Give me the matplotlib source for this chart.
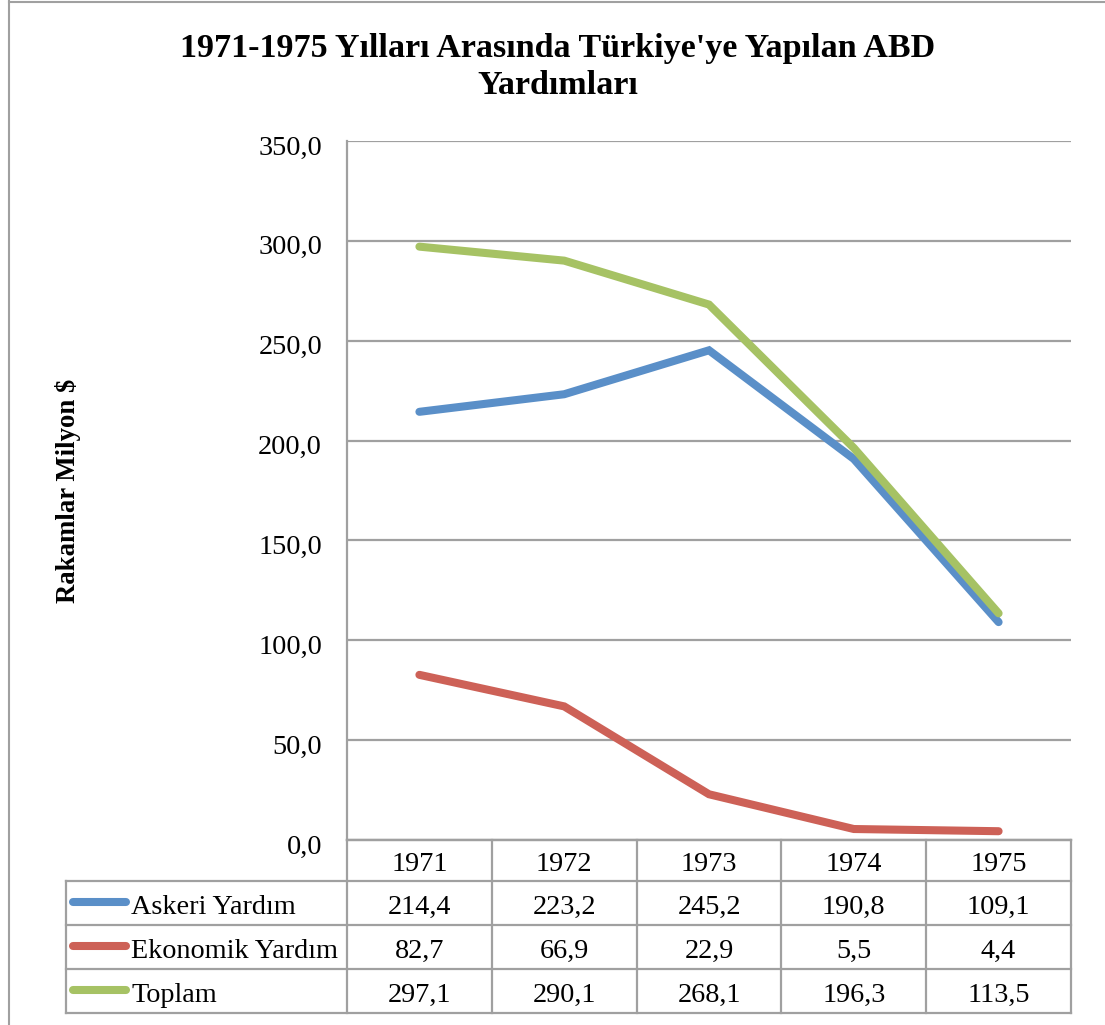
import matplotlib
matplotlib.use("Agg")
import matplotlib.pyplot as plt
import matplotlib.transforms as mtransforms
from matplotlib.lines import Line2D

years = ["1971", "1972", "1973", "1974", "1975"]
series_names = ["Askeri Yardım", "Ekonomik Yardım", "Toplam"]
askeri = [214.4, 223.2, 245.2, 190.8, 109.1]
ekonomik = [82.7, 66.9, 22.9, 5.5, 4.4]
toplam = [297.1, 290.1, 268.1, 196.3, 113.5]
yticks = [0, 50, 100, 150, 200, 250, 300, 350]
colors = ["#5A8FC8", "#CD6157", "#A6C264"]

title = "1971-1975 Yılları Arasında Türkiye'ye Yapılan ABD\nYardımları"
ylabel = "Rakamlar Milyon $"

plt.rcParams['font.family'] = ['Liberation Serif', 'DejaVu Serif']

W, H = 1105, 1025
fig = plt.figure(figsize=(W / 100, H / 100), dpi=100)

def fx(px):
    return px / W

def fy(py):
    return 1 - py / H

grid_col = "#A0A0A0"
fs = 20.3
lw_series = 5.8
# chart border
fig.add_artist(Line2D([fx(9), fx(9)], [fy(1), fy(1025)], color=grid_col, lw=1.5))
fig.add_artist(Line2D([fx(9), fx(1104)], [fy(1.5), fy(1.5)], color=grid_col, lw=1.5))

ax_l, ax_r, ax_t, ax_b = 347, 1071, 141, 840
ax = fig.add_axes([fx(ax_l), fy(ax_b), fx(ax_r) - fx(ax_l), fy(ax_t) - fy(ax_b)])
x = list(range(len(years)))
for vals, c in zip([askeri, ekonomik, toplam], colors):
    ax.plot(x, vals, color=c, lw=lw_series, solid_capstyle="round", solid_joinstyle="miter")
ax.set_xlim(-0.5, len(years) - 0.5)
ax.set_ylim(0, 350)
ax.set_yticks(yticks)
ax.set_yticklabels([f"{v:.1f}".replace(".", ",") for v in yticks], fontsize=fs)
ax.set_xticks([])
ax.yaxis.grid(True, color=grid_col, lw=1.6)
ax.set_axisbelow(True)
for s in ["top", "right"]:
    ax.spines[s].set_visible(False)
for s in ["left", "bottom"]:
    ax.spines[s].set_color(grid_col)
    ax.spines[s].set_linewidth(1.6)
ax.tick_params(axis="y", length=0, pad=18)
offset = mtransforms.ScaledTranslation(0, -4 / 100, fig.dpi_scale_trans)
for lbl in ax.get_yticklabels():
    lbl.set_transform(lbl.get_transform() + offset)

fig.text(fx(558), fy(67), title, ha="center", va="center", fontsize=24.5,
         fontweight="bold", linespacing=1.25)
fig.text(fx(68), fy(491), ylabel, ha="center", va="center", rotation=90,
         fontsize=19.3, fontweight="bold")

# data table
col_w = (ax_r - ax_l) / len(years)
row_y = [840, 881, 925, 969, 1013]
tab_l = 66
def hline(x0, x1, y):
    fig.add_artist(Line2D([fx(x0), fx(x1)], [fy(y), fy(y)], color=grid_col, lw=1.6))
def vline(xx, y0, y1):
    fig.add_artist(Line2D([fx(xx), fx(xx)], [fy(y0), fy(y1)], color=grid_col, lw=1.6))

hline(ax_l, ax_r, row_y[0])
for y in row_y[1:]:
    hline(tab_l, ax_r, y)
vline(tab_l, row_y[1], row_y[-1])
for i in range(len(years) + 1):
    vline(ax_l + i * col_w, row_y[0], row_y[-1])

for i, yr in enumerate(years):
    fig.text(fx(ax_l + (i + 0.5) * col_w), fy((row_y[0] + row_y[1]) / 2 + 4), yr,
             ha="center", va="center", fontsize=fs)

all_vals = [askeri, ekonomik, toplam]
for r, (name, vals, c) in enumerate(zip(series_names, all_vals, colors)):
    yc = (row_y[r + 1] + row_y[r + 2]) / 2 + 4
    fig.add_artist(Line2D([fx(73), fx(126)], [fy(yc - 5), fy(yc - 5)], color=c, lw=lw_series,
                          solid_capstyle="round"))
    fig.text(fx(131), fy(yc), name, ha="left", va="center", fontsize=fs)
    for i, v in enumerate(vals):
        fig.text(fx(ax_l + (i + 0.5) * col_w), fy(yc), f"{v:.1f}".replace(".", ","),
                 ha="center", va="center", fontsize=fs)

fig.savefig("out.png", dpi=100)
